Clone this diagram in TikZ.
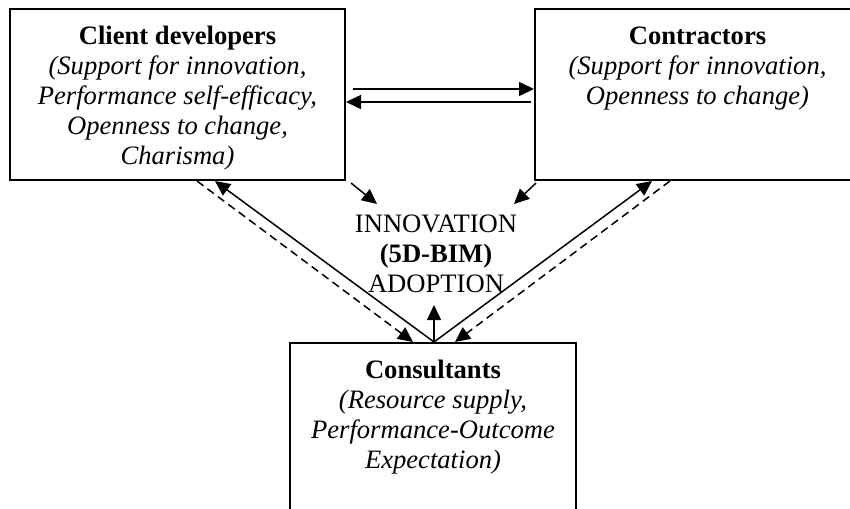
\documentclass[tikz,border=0pt]{standalone}
\usepackage{fontspec}
\setmainfont{Liberation Serif}
\usetikzlibrary{arrows.meta}
\newcommand{\linestack}[1]{\begin{tabular}[t]{@{}c@{}}#1\end{tabular}}
\begin{document}
\begin{tikzpicture}[x=0.5pt,y=-0.5pt,
  box/.style={draw, line width=1pt, rectangle, inner sep=0pt},
  txt/.style={font=\fontsize{13.3}{15}\selectfont, inner sep=0pt, anchor=base},
  conn/.style={line width=0.75pt, -{Triangle[length=7.5pt,width=7pt]}},
  dconn/.style={conn, dash pattern=on 4pt off 2.5pt}]
\useasboundingbox (0,0) rectangle (850,508);
\clip (0,0) rectangle (850,508);
% boxes
\node[box, minimum width=167.5pt, minimum height=85.5pt] (cli) at (177.5,94.5) {};
\node[box, minimum width=162.5pt, minimum height=85.5pt] (con) at (697.5,94.5) {};
\node[box, minimum width=143pt, minimum height=88.5pt] (cons) at (433,431.5) {};
% texts
\node[txt] (clitxt) at (177.5,45) {\linestack{\textbf{Client developers}\\ \textit{(Support for innovation,}\\ \textit{Performance self-efficacy,}\\ \textit{Openness to change,}\\ \textit{Charisma)}}};
\node[txt] (contxt) at (697.5,45) {\linestack{\textbf{Contractors}\\ \textit{(Support for innovation,}\\ \textit{Openness to change)}}};
\node[txt] (constxt) at (433,378) {\linestack{\textbf{Consultants}\\ \textit{(Resource supply,}\\ \textit{Performance-Outcome}\\ \textit{Expectation)}}};
\node[txt] (inn) at (436,232) {\linestack{INNOVATION\\ \textbf{(5D-BIM)}\\ ADOPTION}};
% free ends
\coordinate (ia) at (377,204);
\coordinate (ib) at (514,204);
\coordinate (iv) at (434,305);
% connectors
\draw[conn] ([xshift=3.5pt,yshift=2.75pt]cli.east) -- ([yshift=2.75pt]con.west);
\draw[conn] ([xshift=-1.5pt,yshift=-3.75pt]con.west) -- ([yshift=-3.75pt]cli.east);
\draw[conn] ([xshift=2.5pt,yshift=-1pt]cli.south east) -- (ia);
\draw[conn] ([xshift=1pt,yshift=-1pt]con.south west) -- (ib);
\draw[conn] ([xshift=0.5pt]cons.north) -- (iv);
\draw[conn] ([xshift=0.5pt]cons.north) -- ([xshift=18.75pt]cli.south);
\draw[dconn] ([xshift=9.75pt]cli.south) -- ([xshift=-10pt]cons.north);
\draw[conn] ([xshift=0.5pt]cons.north) -- ([xshift=-22.75pt]con.south);
\draw[dconn] ([xshift=-13.75pt]con.south) -- ([xshift=11pt]cons.north);
\end{tikzpicture}
\end{document}
